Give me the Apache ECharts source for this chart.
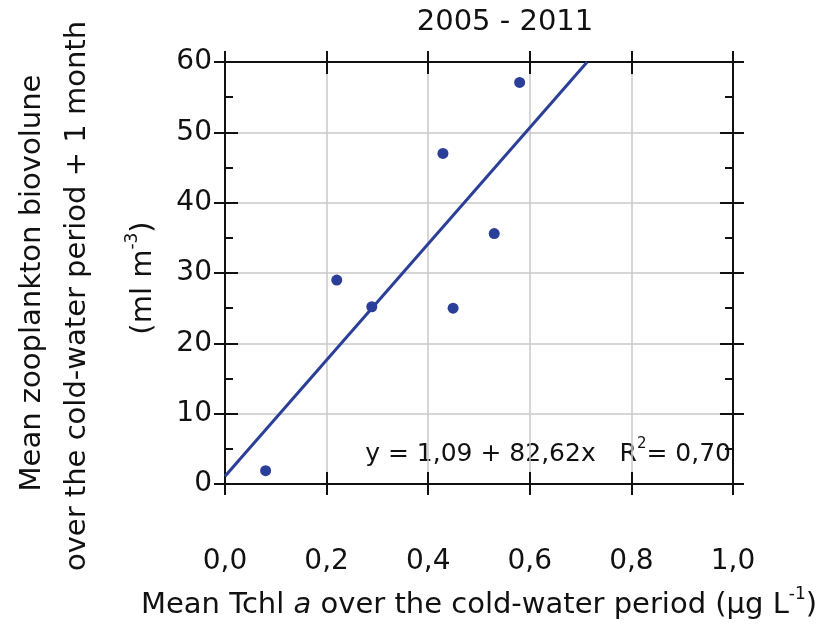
<!DOCTYPE html>
<html>
<head>
<meta charset="utf-8">
<script src="https://cdn.jsdelivr.net/npm/echarts@6/dist/echarts.min.js"></script>
<style>html,body{margin:0;padding:0;background:#fff}#c{width:838px;height:626px}</style>
</head>
<body>
<div id="c"></div>
<script>
// values
const tchl = [0.080, 0.220, 0.289, 0.429, 0.449, 0.530, 0.580];
const zoo  = [1.9, 29.0, 25.2, 47.0, 25.0, 35.6, 57.1];
// regression line end points (y = 1,09 + 82,62x), as drawn
const fitX = [0, 0.713];
const fitY = [1.09, 60];
const xTicks = { min: 0, max: 1, interval: 0.2 };
const yTicks = { min: 0, max: 60, interval: 10 };
const title = '2005 - 2011';
const eqText = 'y = 1,09 + 82,62x   R';

const FONT = 'DejaVu Sans, sans-serif';
const INK = '#111';
const BLUE = '#2b3f98';
const GRID = '#c9c9c9';

const fmt = v => v.toFixed(1).replace('.', ',');

function xAx(pos, inside, main) {
  return {
    type: 'value', position: pos, ...xTicks,
    axisLine: { show: true, onZero: false, lineStyle: { color: INK, width: 2 } },
    axisTick: { show: true, inside, length: inside ? 12 : 11, lineStyle: { color: INK, width: 2 } },
    axisLabel: main ? { show: true, margin: 64, color: INK, fontFamily: FONT, fontSize: 28, formatter: fmt } : { show: false },
    splitLine: main ? { show: true, lineStyle: { color: GRID, width: 1.5 } } : { show: false },
    name: main ? '{n|Mean Tchl }{i|a}{n| over the cold-water period (µg L}{s|-1}{n|)}' : '',
    nameLocation: 'middle', nameGap: 102,
    nameTextStyle: { color: INK, fontFamily: FONT, fontSize: 29,
      rich: { n: { fontSize: 29, fontFamily: FONT, color: INK, verticalAlign: 'bottom', lineHeight: 34 },
              i: { fontSize: 29, fontFamily: FONT, color: INK, fontStyle: 'italic', verticalAlign: 'bottom', lineHeight: 34 },
              s: { fontSize: 17, fontFamily: FONT, color: INK, verticalAlign: 'top', lineHeight: 34 } } },
  };
}

function yAx(pos, inside, main) {
  return {
    type: 'value', position: pos, ...yTicks,
    axisLine: { show: true, onZero: false, lineStyle: { color: INK, width: 2 } },
    axisTick: { show: true, inside, length: inside ? 13 : 11, lineStyle: { color: INK, width: 2 } },
    minorTick: { show: inside, splitNumber: 2, length: 8, lineStyle: { color: INK, width: 2 } },
    axisLabel: main ? { show: true, margin: 13, color: INK, fontFamily: FONT, fontSize: 28 } : { show: false },
    splitLine: main ? { show: true, lineStyle: { color: GRID, width: 1.5 } } : { show: false },
  };
}

const chart = echarts.init(document.getElementById('c'), null, { renderer: 'canvas' });
chart.setOption({
  backgroundColor: '#fff',
  animation: false,
  title: {
    text: title, left: 500, top: 3, textAlign: 'center',
    textStyle: { color: INK, fontFamily: FONT, fontSize: 29, fontWeight: 'normal' },
  },
  grid: { left: 225, right: 105, top: 62, bottom: 142, containLabel: false },
  xAxis: [xAx('bottom', true, true), xAx('bottom', false, false), xAx('top', true, false), xAx('top', false, false)],
  yAxis: [yAx('left', true, true), yAx('left', false, false), yAx('right', true, false), yAx('right', false, false)],
  graphic: [
    { type: 'text', x: 32, y: 283, rotation: Math.PI / 2,
      style: { text: 'Mean zooplankton biovolune', font: '29px ' + FONT, fill: INK, align: 'center', verticalAlign: 'middle' } },
    { type: 'text', x: 77, y: 296, rotation: Math.PI / 2,
      style: { text: 'over the cold-water period + 1 month', font: '29px ' + FONT, fill: INK, align: 'center', verticalAlign: 'middle' } },
    { type: 'text', x: 141, y: 278, rotation: Math.PI / 2,
      style: { text: '{n|(ml m}{s|-3}{n|)}', fill: INK, align: 'center', verticalAlign: 'middle',
        rich: { n: { fontSize: 29, fontFamily: FONT, fill: INK, verticalAlign: 'bottom', lineHeight: 34 },
                s: { fontSize: 17, fontFamily: FONT, fill: INK, verticalAlign: 'top', lineHeight: 34 } } } },
    { type: 'text', x: 731, y: 452,
      style: { text: '{n|' + eqText + '}{s|2}{n|= 0,70}', fill: INK, align: 'right', verticalAlign: 'middle',
        rich: { n: { fontSize: 25, fontFamily: FONT, fill: INK, verticalAlign: 'bottom', lineHeight: 30 },
                s: { fontSize: 15, fontFamily: FONT, fill: INK, verticalAlign: 'top', lineHeight: 30 } } } },
  ],
  series: [
    { type: 'line', data: fitX.map((x, i) => [x, fitY[i]]), symbol: 'none',
      lineStyle: { color: BLUE, width: 3 }, z: 3, silent: true },
    { type: 'scatter', data: tchl.map((x, i) => [x, zoo[i]]), symbol: 'circle', symbolSize: 11,
      itemStyle: { color: BLUE, opacity: 1 }, z: 4 },
  ],
});
</script>
</body>
</html>
